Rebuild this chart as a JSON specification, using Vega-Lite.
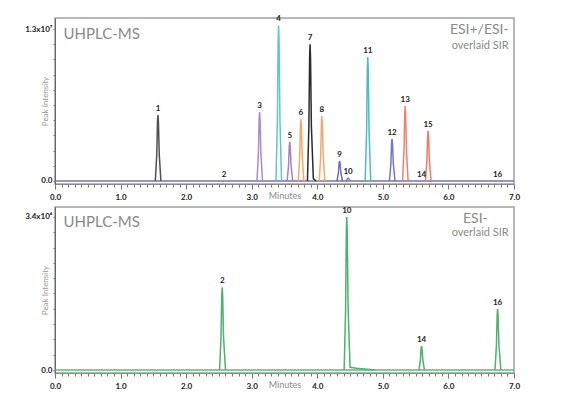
{
  "$schema": "https://vega.github.io/schema/vega-lite/v6.json",
  "padding": {"left": 23, "top": 14, "right": 5, "bottom": 0},
  "bounds": "flush",
  "spacing": 23,
  "config": {
    "view": {"stroke": "#a0a0a0", "strokeWidth": 1.5},
    "font": "Lato",
    "axisX": {
      "tickColor": "#777", "domainColor": "#8a8a8a", "grid": false, "labelOverlap": false, "labelFlush": false,
      "labelFont": "Lato", "labelFontSize": 8, "labelFontWeight": "bold", "labelColor": "#222", "labelPadding": 4,
      "titleFont": "Lato", "titleFontSize": 9, "titleFontWeight": "normal", "titleColor": "#8a8a8a", "titleY": 11, "titleBaseline": "middle"
    },
    "axisY": {
      "tickColor": "#777", "domainColor": "#666", "grid": false, "labelOverlap": false, "tickSize": 2,
      "labelFont": "Lato", "labelFontSize": 8, "labelFontWeight": "bold", "labelColor": "#222", "labelPadding": 1,
      "titleFont": "Lato", "titleFontSize": 8, "titleFontWeight": "normal", "titleColor": "#999",
      "titleX": -6, "titleY": 83, "titleAngle": -90, "titleBaseline": "bottom", "titleAlign": "center"
    }
  },
  "datasets": {
    "topbase": [{"t": 0, "i": 0}, {"t": 7, "i": 0}],
    "botbase": [{"t": 0, "i": 0}, {"t": 7, "i": 0}],
    "top": [
      {"p": "1", "t": 1.53, "i": 0}, {"p": "1", "t": 1.552, "i": 2256000}, {"p": "1", "t": 1.563, "i": 5076000}, {"p": "1", "t": 1.57, "i": 5640000}, {"p": "1", "t": 1.577, "i": 5076000}, {"p": "1", "t": 1.59, "i": 2256000}, {"p": "1", "t": 1.615, "i": 0},
      {"p": "3", "t": 3.08, "i": 0}, {"p": "3", "t": 3.102, "i": 2360000}, {"p": "3", "t": 3.113, "i": 5310000}, {"p": "3", "t": 3.12, "i": 5900000}, {"p": "3", "t": 3.127, "i": 5310000}, {"p": "3", "t": 3.14, "i": 2360000}, {"p": "3", "t": 3.165, "i": 0},
      {"p": "4", "t": 3.37, "i": 0}, {"p": "4", "t": 3.392, "i": 5320000}, {"p": "4", "t": 3.403, "i": 11970000}, {"p": "4", "t": 3.41, "i": 13300000}, {"p": "4", "t": 3.417, "i": 11970000}, {"p": "4", "t": 3.43, "i": 5320000}, {"p": "4", "t": 3.455, "i": 0},
      {"p": "5", "t": 3.54, "i": 0}, {"p": "5", "t": 3.562, "i": 1336000}, {"p": "5", "t": 3.573, "i": 3006000}, {"p": "5", "t": 3.58, "i": 3340000}, {"p": "5", "t": 3.587, "i": 3006000}, {"p": "5", "t": 3.6, "i": 1336000}, {"p": "5", "t": 3.625, "i": 0},
      {"p": "6", "t": 3.71, "i": 0}, {"p": "6", "t": 3.732, "i": 2120000}, {"p": "6", "t": 3.743, "i": 4770000}, {"p": "6", "t": 3.75, "i": 5300000}, {"p": "6", "t": 3.757, "i": 4770000}, {"p": "6", "t": 3.77, "i": 2120000}, {"p": "6", "t": 3.795, "i": 0},
      {"p": "7", "t": 3.85, "i": 0}, {"p": "7", "t": 3.872, "i": 4680000}, {"p": "7", "t": 3.883, "i": 10530000}, {"p": "7", "t": 3.89, "i": 11700000}, {"p": "7", "t": 3.897, "i": 10530000}, {"p": "7", "t": 3.91, "i": 4680000}, {"p": "7", "t": 3.94, "i": 200000}, {"p": "7", "t": 3.98, "i": 0},
      {"p": "8", "t": 4.03, "i": 0}, {"p": "8", "t": 4.052, "i": 2224000}, {"p": "8", "t": 4.063, "i": 5004000}, {"p": "8", "t": 4.07, "i": 5560000}, {"p": "8", "t": 4.077, "i": 5004000}, {"p": "8", "t": 4.09, "i": 2224000}, {"p": "8", "t": 4.115, "i": 0},
      {"p": "9", "t": 4.3, "i": 0}, {"p": "9", "t": 4.322, "i": 684000}, {"p": "9", "t": 4.333, "i": 1539000}, {"p": "9", "t": 4.34, "i": 1710000}, {"p": "9", "t": 4.347, "i": 1539000}, {"p": "9", "t": 4.36, "i": 684000}, {"p": "9", "t": 4.385, "i": 0},
      {"p": "10", "t": 4.43, "i": 0}, {"p": "10", "t": 4.452, "i": 100000}, {"p": "10", "t": 4.463, "i": 225000}, {"p": "10", "t": 4.47, "i": 250000}, {"p": "10", "t": 4.477, "i": 225000}, {"p": "10", "t": 4.49, "i": 100000}, {"p": "10", "t": 4.515, "i": 0},
      {"p": "11", "t": 4.73, "i": 0}, {"p": "11", "t": 4.752, "i": 4240000}, {"p": "11", "t": 4.763, "i": 9540000}, {"p": "11", "t": 4.77, "i": 10600000}, {"p": "11", "t": 4.777, "i": 9540000}, {"p": "11", "t": 4.79, "i": 4240000}, {"p": "11", "t": 4.815, "i": 0},
      {"p": "12", "t": 5.1, "i": 0}, {"p": "12", "t": 5.122, "i": 1440000}, {"p": "12", "t": 5.133, "i": 3240000}, {"p": "12", "t": 5.14, "i": 3600000}, {"p": "12", "t": 5.147, "i": 3240000}, {"p": "12", "t": 5.16, "i": 1440000}, {"p": "12", "t": 5.185, "i": 0},
      {"p": "13", "t": 5.3, "i": 0}, {"p": "13", "t": 5.322, "i": 2560000}, {"p": "13", "t": 5.333, "i": 5760000}, {"p": "13", "t": 5.34, "i": 6400000}, {"p": "13", "t": 5.347, "i": 5760000}, {"p": "13", "t": 5.36, "i": 2560000}, {"p": "13", "t": 5.385, "i": 0},
      {"p": "15", "t": 5.65, "i": 0}, {"p": "15", "t": 5.672, "i": 1720000}, {"p": "15", "t": 5.683, "i": 3870000}, {"p": "15", "t": 5.69, "i": 4300000}, {"p": "15", "t": 5.697, "i": 3870000}, {"p": "15", "t": 5.71, "i": 1720000}, {"p": "15", "t": 5.735, "i": 0}
    ],
    "toplabels": [
      {"p": "1", "t": 1.57, "i": 5640000}, {"p": "2", "t": 2.58, "i": 0}, {"p": "3", "t": 3.12, "i": 5900000}, {"p": "4", "t": 3.41, "i": 13300000},
      {"p": "5", "t": 3.58, "i": 3340000}, {"p": "6", "t": 3.75, "i": 5300000}, {"p": "7", "t": 3.89, "i": 11700000}, {"p": "8", "t": 4.07, "i": 5560000},
      {"p": "9", "t": 4.34, "i": 1710000}, {"p": "10", "t": 4.47, "i": 250000}, {"p": "11", "t": 4.77, "i": 10600000}, {"p": "12", "t": 5.14, "i": 3600000},
      {"p": "13", "t": 5.34, "i": 6400000}, {"p": "14", "t": 5.59, "i": 0}, {"p": "15", "t": 5.69, "i": 4300000}, {"p": "16", "t": 6.75, "i": 0}
    ],
    "bot": [
      {"p": "2", "t": 2.51, "i": 0}, {"p": "2", "t": 2.532, "i": 736000}, {"p": "2", "t": 2.543, "i": 1656000}, {"p": "2", "t": 2.55, "i": 1840000}, {"p": "2", "t": 2.557, "i": 1656000}, {"p": "2", "t": 2.57, "i": 736000}, {"p": "2", "t": 2.6, "i": 0},
      {"p": "10", "t": 4.41, "i": 0}, {"p": "10", "t": 4.432, "i": 1360000}, {"p": "10", "t": 4.443, "i": 3060000}, {"p": "10", "t": 4.45, "i": 3400000}, {"p": "10", "t": 4.457, "i": 3060000}, {"p": "10", "t": 4.47, "i": 1360000}, {"p": "10", "t": 4.5, "i": 60000}, {"p": "10", "t": 4.6, "i": 40000}, {"p": "10", "t": 4.88, "i": 0},
      {"p": "14", "t": 5.55, "i": 0}, {"p": "14", "t": 5.572, "i": 212000}, {"p": "14", "t": 5.583, "i": 477000}, {"p": "14", "t": 5.59, "i": 530000}, {"p": "14", "t": 5.597, "i": 477000}, {"p": "14", "t": 5.61, "i": 212000}, {"p": "14", "t": 5.635, "i": 0},
      {"p": "16", "t": 6.71, "i": 0}, {"p": "16", "t": 6.732, "i": 544000}, {"p": "16", "t": 6.743, "i": 1224000}, {"p": "16", "t": 6.75, "i": 1360000}, {"p": "16", "t": 6.757, "i": 1224000}, {"p": "16", "t": 6.77, "i": 544000}, {"p": "16", "t": 6.8, "i": 0}
    ],
    "botlabels": [
      {"p": "2", "t": 2.55, "i": 1840000}, {"p": "10", "t": 4.45, "i": 3400000}, {"p": "14", "t": 5.59, "i": 530000}, {"p": "16", "t": 6.75, "i": 1360000}
    ]
  },
  "vconcat": [
    {
      "width": 459,
      "height": 166,
      "layer": [
        {
          "data": {"name": "topbase"},
          "mark": {"type": "line", "color": "#7d6fae", "strokeWidth": 1.5},
          "encoding": {
            "x": {"field": "t", "type": "quantitative", "scale": {"domain": [0, 7], "nice": false},
              "axis": {"tickCount": 70, "labelExpr": "abs(datum.value - round(datum.value)) < 0.001 ? format(datum.value, '.1f') : ''", "tickSize": {"condition": {"test": "abs(datum.value - round(datum.value)) < 0.001", "value": 5}, "value": 3}, "title": "Minutes"}},
            "y": {"field": "i", "type": "quantitative", "scale": {"domain": [-256600, 13940800], "nice": false, "zero": false},
              "axis": {"values": [0,1300000,2600000,3900000,5200000,6500000,7800000,9100000,10400000,11700000,13000000], "labelExpr": "datum.value == 0 ? '0.0' : (datum.value == 13000000 ? '1.3x10⁷' : '')", "title": "Peak Intensity"}}
          }
        },
        {
          "data": {"name": "top"},
          "mark": {"type": "line", "strokeWidth": 1.5},
          "encoding": {
            "x": {"field": "t", "type": "quantitative",
              "axis": {"tickCount": 70, "labelExpr": "abs(datum.value - round(datum.value)) < 0.001 ? format(datum.value, '.1f') : ''", "tickSize": {"condition": {"test": "abs(datum.value - round(datum.value)) < 0.001", "value": 5}, "value": 3}, "title": "Minutes"}},
            "y": {"field": "i", "type": "quantitative",
              "axis": {"values": [0,1300000,2600000,3900000,5200000,6500000,7800000,9100000,10400000,11700000,13000000], "labelExpr": "datum.value == 0 ? '0.0' : (datum.value == 13000000 ? '1.3x10⁷' : '')", "title": "Peak Intensity"}},
            "color": {
              "field": "p", "type": "nominal", "legend": null,
              "scale": {
                "domain": ["1","3","4","5","6","7","8","9","10","11","12","13","15"],
                "range": ["#505050","#a98ccf","#5ec7c9","#a283c9","#f3a965","#2b2b2b","#f1aa6a","#6d6dc4","#8a7cb8","#4dbdbd","#7676c2","#ea8470","#ec7d66"]
              }
            }
          }
        },
        {
          "data": {"name": "toplabels"},
          "mark": {"type": "text", "baseline": "bottom", "dy": -2, "fontSize": 8, "fontWeight": "bold", "color": "#222", "font": "Lato"},
          "encoding": {
            "x": {"field": "t", "type": "quantitative",
              "axis": {"tickCount": 70, "labelExpr": "abs(datum.value - round(datum.value)) < 0.001 ? format(datum.value, '.1f') : ''", "tickSize": {"condition": {"test": "abs(datum.value - round(datum.value)) < 0.001", "value": 5}, "value": 3}, "title": "Minutes"}},
            "y": {"field": "i", "type": "quantitative",
              "axis": {"values": [0,1300000,2600000,3900000,5200000,6500000,7800000,9100000,10400000,11700000,13000000], "labelExpr": "datum.value == 0 ? '0.0' : (datum.value == 13000000 ? '1.3x10⁷' : '')", "title": "Peak Intensity"}},
            "text": {"field": "p"}
          }
        },
        {
          "data": {"values": [{"note": "UHPLC-MS"}]},
          "mark": {"type": "text", "align": "left", "baseline": "middle", "fontSize": 15, "color": "#8a8a8a", "font": "Lato"},
          "encoding": {
            "x": {"datum": 0.13, "type": "quantitative",
              "axis": {"tickCount": 70, "labelExpr": "abs(datum.value - round(datum.value)) < 0.001 ? format(datum.value, '.1f') : ''", "tickSize": {"condition": {"test": "abs(datum.value - round(datum.value)) < 0.001", "value": 5}, "value": 3}, "title": "Minutes"}},
            "y": {"datum": 12572000, "type": "quantitative",
              "axis": {"values": [0,1300000,2600000,3900000,5200000,6500000,7800000,9100000,10400000,11700000,13000000], "labelExpr": "datum.value == 0 ? '0.0' : (datum.value == 13000000 ? '1.3x10⁷' : '')", "title": "Peak Intensity"}},
            "text": {"field": "note"}
          }
        },
        {
          "data": {"values": [{"note": "ESI+/ESI-"}]},
          "mark": {"type": "text", "align": "right", "baseline": "middle", "fontSize": 14, "color": "#8a8a8a", "font": "Lato"},
          "encoding": {
            "x": {"datum": 6.92, "type": "quantitative",
              "axis": {"tickCount": 70, "labelExpr": "abs(datum.value - round(datum.value)) < 0.001 ? format(datum.value, '.1f') : ''", "tickSize": {"condition": {"test": "abs(datum.value - round(datum.value)) < 0.001", "value": 5}, "value": 3}, "title": "Minutes"}},
            "y": {"datum": 12914000, "type": "quantitative",
              "axis": {"values": [0,1300000,2600000,3900000,5200000,6500000,7800000,9100000,10400000,11700000,13000000], "labelExpr": "datum.value == 0 ? '0.0' : (datum.value == 13000000 ? '1.3x10⁷' : '')", "title": "Peak Intensity"}},
            "text": {"field": "note"}
          }
        },
        {
          "data": {"values": [{"note": "overlaid SIR"}]},
          "mark": {"type": "text", "align": "right", "baseline": "middle", "fontSize": 11, "color": "#8a8a8a", "font": "Lato"},
          "encoding": {
            "x": {"datum": 6.92, "type": "quantitative",
              "axis": {"tickCount": 70, "labelExpr": "abs(datum.value - round(datum.value)) < 0.001 ? format(datum.value, '.1f') : ''", "tickSize": {"condition": {"test": "abs(datum.value - round(datum.value)) < 0.001", "value": 5}, "value": 3}, "title": "Minutes"}},
            "y": {"datum": 11546000, "type": "quantitative",
              "axis": {"values": [0,1300000,2600000,3900000,5200000,6500000,7800000,9100000,10400000,11700000,13000000], "labelExpr": "datum.value == 0 ? '0.0' : (datum.value == 13000000 ? '1.3x10⁷' : '')", "title": "Peak Intensity"}},
            "text": {"field": "note"}
          }
        }
      ]
    },
    {
      "width": 459,
      "height": 166,
      "layer": [
        {
          "data": {"name": "botbase"},
          "mark": {"type": "line", "color": "#5fb878", "strokeWidth": 1.5},
          "encoding": {
            "x": {"field": "t", "type": "quantitative", "scale": {"domain": [0, 7], "nice": false},
              "axis": {"tickCount": 70, "labelExpr": "abs(datum.value - round(datum.value)) < 0.001 ? format(datum.value, '.1f') : ''", "tickSize": {"condition": {"test": "abs(datum.value - round(datum.value)) < 0.001", "value": 5}, "value": 3}, "title": "Minutes"}},
            "y": {"field": "i", "type": "quantitative", "scale": {"domain": [-66667, 3622222], "nice": false, "zero": false},
              "axis": {"values": [0,340000,680000,1020000,1360000,1700000,2040000,2380000,2720000,3060000,3400000], "labelExpr": "datum.value == 0 ? '0.0' : (datum.value == 3400000 ? '3.4x10⁶' : '')", "title": "Peak Intensity"}}
          }
        },
        {
          "data": {"name": "bot"},
          "mark": {"type": "line", "strokeWidth": 1.5, "color": "#4fb070"},
          "encoding": {
            "x": {"field": "t", "type": "quantitative",
              "axis": {"tickCount": 70, "labelExpr": "abs(datum.value - round(datum.value)) < 0.001 ? format(datum.value, '.1f') : ''", "tickSize": {"condition": {"test": "abs(datum.value - round(datum.value)) < 0.001", "value": 5}, "value": 3}, "title": "Minutes"}},
            "y": {"field": "i", "type": "quantitative",
              "axis": {"values": [0,340000,680000,1020000,1360000,1700000,2040000,2380000,2720000,3060000,3400000], "labelExpr": "datum.value == 0 ? '0.0' : (datum.value == 3400000 ? '3.4x10⁶' : '')", "title": "Peak Intensity"}},
            "detail": {"field": "p"}
          }
        },
        {
          "data": {"name": "botlabels"},
          "mark": {"type": "text", "baseline": "bottom", "dy": -2, "fontSize": 8, "fontWeight": "bold", "color": "#222", "font": "Lato"},
          "encoding": {
            "x": {"field": "t", "type": "quantitative",
              "axis": {"tickCount": 70, "labelExpr": "abs(datum.value - round(datum.value)) < 0.001 ? format(datum.value, '.1f') : ''", "tickSize": {"condition": {"test": "abs(datum.value - round(datum.value)) < 0.001", "value": 5}, "value": 3}, "title": "Minutes"}},
            "y": {"field": "i", "type": "quantitative",
              "axis": {"values": [0,340000,680000,1020000,1360000,1700000,2040000,2380000,2720000,3060000,3400000], "labelExpr": "datum.value == 0 ? '0.0' : (datum.value == 3400000 ? '3.4x10⁶' : '')", "title": "Peak Intensity"}},
            "text": {"field": "p"}
          }
        },
        {
          "data": {"values": [{"note": "UHPLC-MS"}]},
          "mark": {"type": "text", "align": "left", "baseline": "middle", "fontSize": 15, "color": "#8a8a8a", "font": "Lato"},
          "encoding": {
            "x": {"datum": 0.13, "type": "quantitative",
              "axis": {"tickCount": 70, "labelExpr": "abs(datum.value - round(datum.value)) < 0.001 ? format(datum.value, '.1f') : ''", "tickSize": {"condition": {"test": "abs(datum.value - round(datum.value)) < 0.001", "value": 5}, "value": 3}, "title": "Minutes"}},
            "y": {"datum": 3288900, "type": "quantitative",
              "axis": {"values": [0,340000,680000,1020000,1360000,1700000,2040000,2380000,2720000,3060000,3400000], "labelExpr": "datum.value == 0 ? '0.0' : (datum.value == 3400000 ? '3.4x10⁶' : '')", "title": "Peak Intensity"}},
            "text": {"field": "note"}
          }
        },
        {
          "data": {"values": [{"note": "ESI-"}]},
          "mark": {"type": "text", "align": "right", "baseline": "middle", "fontSize": 14, "color": "#8a8a8a", "font": "Lato"},
          "encoding": {
            "x": {"datum": 6.6, "type": "quantitative",
              "axis": {"tickCount": 70, "labelExpr": "abs(datum.value - round(datum.value)) < 0.001 ? format(datum.value, '.1f') : ''", "tickSize": {"condition": {"test": "abs(datum.value - round(datum.value)) < 0.001", "value": 5}, "value": 3}, "title": "Minutes"}},
            "y": {"datum": 3355500, "type": "quantitative",
              "axis": {"values": [0,340000,680000,1020000,1360000,1700000,2040000,2380000,2720000,3060000,3400000], "labelExpr": "datum.value == 0 ? '0.0' : (datum.value == 3400000 ? '3.4x10⁶' : '')", "title": "Peak Intensity"}},
            "text": {"field": "note"}
          }
        },
        {
          "data": {"values": [{"note": "overlaid SIR"}]},
          "mark": {"type": "text", "align": "right", "baseline": "middle", "fontSize": 11, "color": "#8a8a8a", "font": "Lato"},
          "encoding": {
            "x": {"datum": 6.92, "type": "quantitative",
              "axis": {"tickCount": 70, "labelExpr": "abs(datum.value - round(datum.value)) < 0.001 ? format(datum.value, '.1f') : ''", "tickSize": {"condition": {"test": "abs(datum.value - round(datum.value)) < 0.001", "value": 5}, "value": 3}, "title": "Minutes"}},
            "y": {"datum": 3044400, "type": "quantitative",
              "axis": {"values": [0,340000,680000,1020000,1360000,1700000,2040000,2380000,2720000,3060000,3400000], "labelExpr": "datum.value == 0 ? '0.0' : (datum.value == 3400000 ? '3.4x10⁶' : '')", "title": "Peak Intensity"}},
            "text": {"field": "note"}
          }
        }
      ]
    }
  ]
}
